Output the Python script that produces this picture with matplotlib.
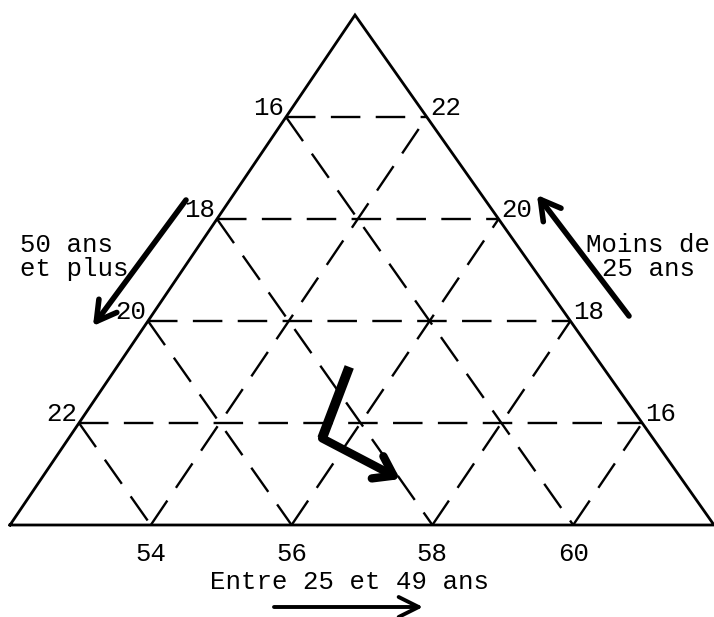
import matplotlib
matplotlib.use("Agg")
import matplotlib.pyplot as plt

# ---------------- data ----------------
# ternary ranges (sum of the three shares = 90 on this zoomed diagram)
moins_min, plus_min, entre_min = 14, 14, 52
span = 10
total = moins_min + plus_min + entre_min + span

moins_ticks = [16, 18, 20, 22]          # "Moins de 25 ans" (right side)
plus50_ticks = [22, 20, 18, 16]         # "50 ans et plus"  (left side)
entre_ticks = [54, 56, 58, 60]          # "Entre 25 et 49 ans" (bottom)

# trajectory (thick arrow)
path_moins = [17.1, 15.7, 14.9]
path_plus50 = [17.6, 18.7, 18.0]
path_entre = [55.3, 55.6, 57.1]

# ---------------- layout ----------------
L = (10, 525)    # 50+ vertex
R = (714, 525)   # 25-49 vertex
T = (355, 15)    # <25 vertex


def tern(m, e):
    u = (m - moins_min) / span
    w = (e - entre_min) / span
    x = L[0] + w * (R[0] - L[0]) + u * (T[0] - L[0])
    y = L[1] + w * (R[1] - L[1]) + u * (T[1] - L[1])
    return x, y


fig = plt.figure(figsize=(7.14, 6.17), dpi=100)
ax = fig.add_axes([0, 0, 1, 1])
ax.set_xlim(0, 714)
ax.set_ylim(617, 0)
ax.axis("off")

FONT = "Liberation Mono"
FS = 18.5

# triangle
xs = [L[0], R[0], T[0], L[0]]
ys = [L[1], R[1], T[1], L[1]]
ax.plot(xs, ys, color="black", lw=2.0, solid_joinstyle="miter")

dash = dict(color="black", lw=1.7, linestyle=(0, (12.5, 6.5)))

# horizontal lines: constant "moins de 25"
for m in moins_ticks:
    p1 = tern(m, entre_min)
    p2 = tern(m, total - plus_min - m)
    ax.plot([p1[0], p2[0]], [p1[1], p2[1]], **dash)
# lines parallel to right side: constant "50 ans et plus"
for p in plus50_ticks:
    p1 = tern(total - p - entre_min, entre_min)
    p2 = tern(moins_min, total - p - moins_min)
    ax.plot([p1[0], p2[0]], [p1[1], p2[1]], **dash)
# lines parallel to left side: constant "entre 25 et 49"
for e in entre_ticks:
    p1 = tern(moins_min, e)
    p2 = tern(total - plus_min - e, e)
    ax.plot([p1[0], p2[0]], [p1[1], p2[1]], **dash)

# labels
for m in moins_ticks:
    x, y = tern(m, total - plus_min - m)
    ax.text(x + 3, y - 9, str(m), ha="left", va="center",
            fontsize=FS, family=FONT)
for p in plus50_ticks:
    x, y = tern(total - p - entre_min, entre_min)
    ax.text(x - 2, y - 9, str(p), ha="right", va="center",
            fontsize=FS, family=FONT)
for e in entre_ticks:
    x, y = tern(moins_min, e)
    ax.text(x, y + 29, str(e), ha="center", va="center",
            fontsize=FS, family=FONT)

# axis titles
ax.text(349, 582, "Entre 25 et 49 ans", ha="center", va="center",
        fontsize=FS, family=FONT)
ax.text(20, 257, "50 ans\net plus", ha="left", va="center",
        fontsize=FS, family=FONT, linespacing=1.0)
ax.text(710, 257, "Moins de\n25 ans ", ha="right", va="center",
        fontsize=FS, family=FONT, linespacing=1.0, multialignment="right")

# direction arrows
arrow_kw = dict(arrowstyle="->,head_length=0.7,head_width=0.4",
                color="black", lw=4, shrinkA=0, shrinkB=0,
                mutation_scale=20)
ax.annotate("", xy=(93, 326), xytext=(186, 200), arrowprops=arrow_kw)
ax.annotate("", xy=(537, 195), xytext=(629, 316), arrowprops=arrow_kw)
ax.annotate("", xy=(423, 607), xytext=(274, 607),
            arrowprops=dict(arrowstyle="->,head_length=0.8,head_width=0.4",
                            color="black", lw=2.8, shrinkA=0, shrinkB=0,
                            mutation_scale=18))

# trajectory
pts = [tern(m, e) for m, e in zip(path_moins, path_entre)]
px = [p[0] for p in pts]
py = [p[1] for p in pts]
ax.plot(px[:2], py[:2], color="black", lw=7, solid_capstyle="butt",
        solid_joinstyle="miter")
ax.annotate("", xy=pts[2], xytext=pts[1],
            arrowprops=dict(arrowstyle="->,head_length=0.65,head_width=0.45",
                            color="black", lw=6, shrinkA=0, shrinkB=0,
                            mutation_scale=20))

fig.savefig("out.png", dpi=100)
